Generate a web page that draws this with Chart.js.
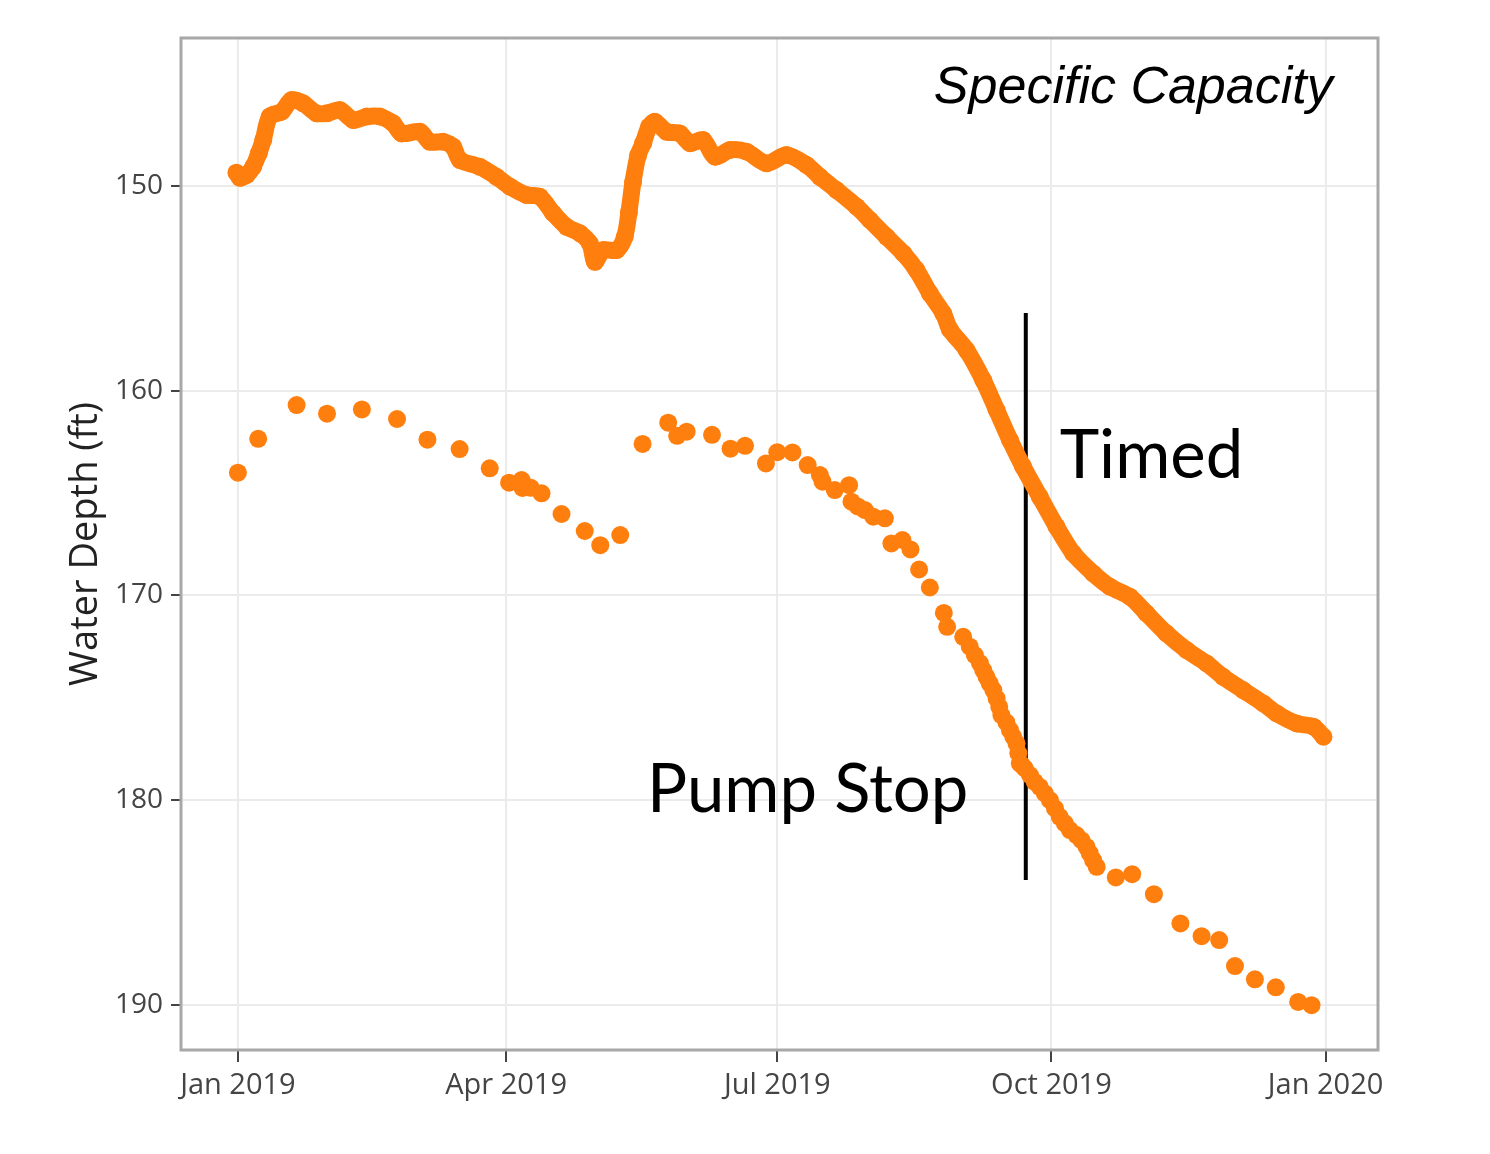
<!DOCTYPE html>
<html>
<head>
<meta charset="utf-8">
<script src="https://cdn.jsdelivr.net/npm/chart.js@4.4.1/dist/chart.umd.min.js"></script>
<style>
  html, body { margin: 0; padding: 0; background: #ffffff; }
  #wrap { width: 1490px; height: 1154px; }
</style>
</head>
<body>
<div id="wrap"><canvas id="c" width="1490" height="1154"></canvas></div>
<script>
// Day offsets from 1 Jan 2019
const tickDays = [0, 90, 181, 273, 365];
const tickLabels = ["Jan 2019", "Apr 2019", "Jul 2019", "Oct 2019", "Jan 2020"];
const depthTicks = [150, 160, 170, 180, 190];

// "Timed" series (day, water depth ft)
const timedDays = [-0.5, 0.7, 3, 5.1, 7, 8.5, 10.7, 14.7, 18, 21.9, 26.4, 29.8, 34.2, 38.7, 43.2, 47.7, 52.1, 54.9,
  61.1, 64.4, 68.9, 72.2, 74.5, 81.2, 86.8, 91.3, 96.9, 101.3, 105.8, 110.3, 114.8, 118.1, 119.8, 122.6, 127.1,
  129.8, 131.2, 132.6, 134.3, 136, 138, 139.9, 143.9, 148.3, 151.7, 156.1, 160.1, 165.1, 170.7, 177.4, 184.1,
  190.8, 195.3, 200.9, 207.6, 212.1, 217.7, 223.3, 227.7, 232.2, 236.7, 238.9, 244.5, 250.1, 254.6, 259.1,
  263.5, 269.1, 274.7, 280.3, 287, 292.6, 299.3, 304.9, 311.6, 318.4, 325.1, 330.6, 337.3, 344.1, 348.6,
  355.3, 360.9, 364.3];
const timedDepth = [149.35, 149.6, 149.45, 149.06, 148.4, 147.75, 146.6, 146.37, 145.8, 145.96, 146.45, 146.45, 146.29,
  146.78, 146.61, 146.61, 146.94, 147.43, 147.35, 147.84, 147.84, 148.08, 148.73, 149.06, 149.55, 150.03, 150.44,
  150.52, 151.33, 151.99, 152.31, 152.8, 153.7, 153.13, 153.13, 152.48, 151.3, 149.8, 148.5, 147.91, 147.1, 146.86,
  147.35, 147.43, 147.91, 147.75, 148.57, 148.24, 148.32, 148.89, 148.49, 148.97, 149.55, 150.2, 151.01, 151.66,
  152.48, 153.29, 154.1, 155.24, 156.22, 157.0, 158.01, 159.48, 160.94, 162.41, 163.71, 165.18, 166.64, 167.94,
  168.92, 169.57, 170.06, 170.87, 171.85, 172.67, 173.32, 173.97, 174.62, 175.27, 175.76, 176.25, 176.41, 176.9];

// "Pump Stop" series (day, water depth ft)
const pumpDays = [0, 6.8, 19.7, 29.9, 41.6, 53.4, 63.6, 74.4, 84.5, 91, 95.2, 95.5, 98.3, 101.9, 108.6, 116.4, 121.6,
  128.3, 135.8, 144.4, 147.4, 150.6, 159.1, 165.3, 170.2, 177.2, 181, 186.1, 191.2, 195.3, 196.2, 200.3, 205.1,
  205.9, 208, 210.4, 213.2, 217.1, 219.3, 223, 225.7, 228.6, 232.2, 236.9, 238, 243.4, 245.6, 247.3, 249, 250.1,
  251.2, 252.3, 253.5, 254.6, 255.5, 256.2, 257.9, 259.1, 260.2, 261.3, 261.9, 262.4, 263.2, 264.1, 265.8, 267.4,
  269.1, 270.8, 272.5, 274.2, 275.8, 277.5, 279.2, 281.4, 283.1, 284.8, 285.9, 287, 288.2,
  294.6, 300.1, 307.4, 316.3, 323.4, 329.3, 334.6, 341.3, 348.3, 355.8, 360.3];
const pumpDepth = [164.0, 162.35, 160.7, 161.12, 160.91, 161.38, 162.39, 162.85, 163.79, 164.49, 164.36, 164.75, 164.74,
  165.01, 166.02, 166.85, 167.54, 167.05, 162.6, 161.56, 162.2, 162.0, 162.15, 162.83, 162.69, 163.55, 163.0,
  163.01, 163.63, 164.12, 164.44, 164.85, 164.61, 165.42, 165.65, 165.83, 166.15, 166.23, 167.46, 167.29, 167.75,
  168.73, 169.61, 170.85, 171.53, 172.02, 172.5, 172.91, 173.3, 173.64, 173.97, 174.29, 174.62, 175.03, 175.44,
  175.84, 176.2, 176.58, 176.9, 177.23, 177.7, 178.2, 178.3, 178.45, 178.77, 179.1, 179.35, 179.67, 180.0, 180.4,
  180.81, 181.13, 181.46, 181.7, 181.95, 182.28, 182.6, 182.93, 183.25,
  183.77, 183.61, 184.59, 186.02, 186.64, 186.83, 188.1, 188.75, 189.14, 189.85, 190.01];

// Vertical marker line (day, depth range)
const markerDay = [264.4, 264.4];
const markerDepth = [156.2, 183.9];

const ORANGE = '#ff7f0e';

const toXY = (xs, ys) => xs.map((x, i) => ({ x: x, y: ys[i] }));

const framePlugin = {
  id: 'frame',
  afterDatasetsDraw(chart) {
    const { ctx, chartArea: a, scales } = chart;
    ctx.save();
    ctx.strokeStyle = '#a8a8a8';
    ctx.lineWidth = 3;
    ctx.strokeRect(a.left, a.top, a.right - a.left, a.bottom - a.top);
    ctx.restore();

    const xs = scales.x, ys = scales.y;
    ctx.save();
    ctx.fillStyle = '#000000';
    ctx.textBaseline = 'alphabetic';
    ctx.font = 'italic 52px "Liberation Sans", Arial, sans-serif';
    ctx.textAlign = 'right';
    ctx.fillText('Specific Capacity', xs.getPixelForValue(367.4), ys.getPixelForValue(145.95));
    ctx.font = '67px Lato, "Open Sans", sans-serif';
    ctx.textAlign = 'left';
    ctx.fillText('Timed', xs.getPixelForValue(275.8), ys.getPixelForValue(164.26));
    ctx.fillText('Pump Stop', xs.getPixelForValue(137.3), ys.getPixelForValue(180.58));
    ctx.restore();
  }
};

new Chart(document.getElementById('c'), {
  type: 'scatter',
  data: {
    datasets: [
      {
        label: 'Timed',
        data: toXY(timedDays, timedDepth),
        showLine: true,
        borderColor: ORANGE,
        borderWidth: 17,
        borderCapStyle: 'round',
        borderJoinStyle: 'round',
        backgroundColor: ORANGE,
        pointRadius: 9,
        pointBorderWidth: 0,
        tension: 0.3
      },
      {
        label: 'Pump Stop',
        data: toXY(pumpDays, pumpDepth),
        showLine: false,
        backgroundColor: ORANGE,
        borderColor: ORANGE,
        pointRadius: 9,
        pointBorderWidth: 0
      },
      {
        label: 'marker',
        data: toXY(markerDay, markerDepth),
        showLine: true,
        borderColor: '#000000',
        borderWidth: 4,
        pointRadius: 0
      }
    ]
  },
  options: {
    responsive: false,
    devicePixelRatio: 1,
    animation: false,
    layout: { padding: { left: 60, top: 38, right: 112, bottom: 0 } },
    plugins: { legend: { display: false }, tooltip: { enabled: false } },
    scales: {
      x: {
        type: 'linear',
        min: -19.1,
        max: 382.6,
        afterFit(scale) { scale.height = 104; },
        afterBuildTicks(scale) { scale.ticks = tickDays.map(v => ({ value: v })); },
        border: { display: false },
        grid: { color: '#ebebeb', lineWidth: 2, drawTicks: true, tickLength: 12, tickColor: '#444444', tickWidth: 2 },
        ticks: {
          autoSkip: false, maxRotation: 0, padding: 6,
          color: '#444444',
          font: { family: '"Open Sans", sans-serif', size: 29 },
          callback(value) { const i = tickDays.indexOf(value); return i >= 0 ? tickLabels[i] : ''; }
        }
      },
      y: {
        type: 'linear',
        reverse: true,
        min: 142.77,
        max: 192.2,
        afterFit(scale) { scale.width = 121; },
        afterBuildTicks(scale) { scale.ticks = depthTicks.map(v => ({ value: v })); },
        border: { display: false },
        grid: { color: '#ebebeb', lineWidth: 2, drawTicks: true, tickLength: 10, tickColor: '#444444', tickWidth: 2 },
        ticks: {
          autoSkip: false, padding: 8,
          color: '#444444',
          font: { family: '"Open Sans", sans-serif', size: 28 }
        },
        title: {
          display: true,
          text: 'Water Depth (ft)',
          color: '#222222',
          font: { family: '"Open Sans", sans-serif', size: 38 },
          padding: { top: 3, bottom: 0 }
        }
      }
    }
  },
  plugins: [framePlugin]
});
</script>
</body>
</html>
